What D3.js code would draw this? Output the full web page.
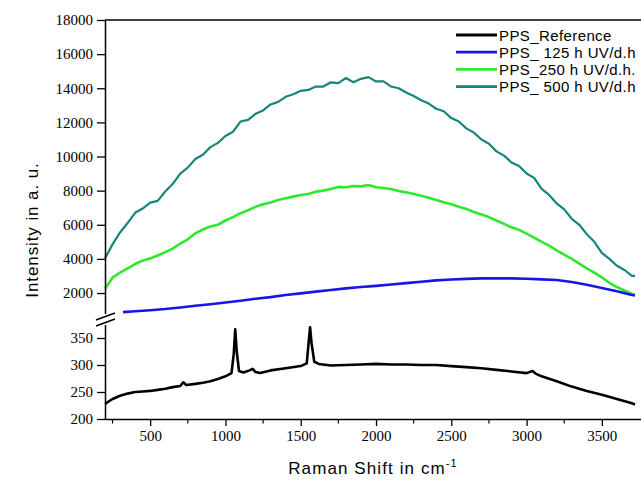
<!DOCTYPE html>
<html>
<head>
<meta charset="utf-8">
<script src="https://cdnjs.cloudflare.com/ajax/libs/d3/7.8.5/d3.min.js"></script>
<style>
  body { margin: 0; background: #fff; }
  svg { display: block; }
  .tick text { font-family: "Liberation Serif", "Times New Roman", serif; font-size: 15px; fill: #000; }
  .lbl { font-family: "Liberation Sans", Arial, sans-serif; fill: #000; }
</style>
</head>
<body>
<div id="chart"></div>
<script>
// Raman shift grid (cm-1) for the UV-aged spectra
var shift = [200, 250, 300, 350, 400, 450, 500, 550, 600, 650, 700, 750, 800, 850, 900, 950,
  1000, 1050, 1100, 1150, 1200, 1250, 1300, 1350, 1400, 1450, 1500, 1550, 1600, 1650, 1700, 1750,
  1800, 1850, 1900, 1950, 2000, 2050, 2100, 2150, 2200, 2250, 2300, 2350, 2400, 2450, 2500, 2550,
  2600, 2650, 2700, 2750, 2800, 2850, 2900, 2950, 3000, 3050, 3100, 3150, 3200, 3250, 3300, 3350,
  3400, 3450, 3500, 3550, 3600, 3650, 3700, 3720];

var pps500 = [4030, 4850, 5550, 6100, 6700, 6950, 7300, 7400, 7950, 8400, 9000, 9350, 9850, 10100, 10550, 10800,
  11200, 11450, 12050, 12150, 12500, 12700, 13050, 13200, 13500, 13650, 13850, 13900, 14100, 14100, 14350, 14300,
  14600, 14350, 14550, 14650, 14400, 14400, 14100, 14000, 13750, 13550, 13300, 13100, 12800, 12650, 12250, 12050,
  11650, 11400, 11000, 10750, 10300, 10050, 9650, 9450, 9000, 8750, 8100, 7750, 7250, 6900, 6350, 6000,
  5450, 5000, 4350, 4000, 3600, 3350, 3000, 3000];

var pps250 = [2250, 2900, 3200, 3450, 3700, 3900, 4030, 4200, 4400, 4600, 4900, 5150, 5500, 5720, 5900, 6000,
  6250, 6450, 6680, 6850, 7050, 7200, 7300, 7450, 7550, 7650, 7740, 7800, 7940, 8000, 8100, 8220,
  8200, 8270, 8250, 8330, 8200, 8150, 8100, 7980, 7900, 7800, 7700, 7580, 7450, 7320, 7200, 7050,
  6920, 6750, 6600, 6450, 6250, 6050, 5850, 5700, 5480, 5250, 5000, 4780, 4500, 4250, 4000, 3720,
  3450, 3200, 2920, 2600, 2350, 2150, 1950, 1900];

var shift125 = [320, 400, 500, 600, 700, 800, 900, 1000, 1100, 1200, 1300, 1400, 1500, 1600, 1700, 1800,
  1900, 2000, 2100, 2200, 2300, 2400, 2500, 2600, 2700, 2800, 2900, 3000, 3100, 3200, 3300, 3400,
  3500, 3600, 3700, 3720];
var pps125 = [880, 930, 990, 1060, 1150, 1250, 1340, 1440, 1550, 1660, 1760, 1880, 1980, 2080, 2180, 2270,
  2350, 2420, 2500, 2580, 2660, 2740, 2790, 2830, 2860, 2860, 2860, 2840, 2800, 2760, 2650, 2480,
  2290, 2100, 1890, 1850];

// reference spectrum, drawn on the lower axis segment
var shiftRef = [200, 250, 300, 350, 400, 450, 500, 550, 600, 650, 700, 720, 740, 800, 850, 900,
  950, 1000, 1040, 1055, 1065, 1075, 1090, 1120, 1160, 1180, 1200, 1230, 1300, 1400, 1500, 1540,
  1552, 1562, 1572, 1590, 1620, 1700, 1800, 1900, 2000, 2100, 2200, 2300, 2400, 2500, 2600, 2700,
  2800, 2900, 3000, 3040, 3060, 3100, 3200, 3300, 3400, 3500, 3600, 3700, 3720];
var ppsRef = [228, 237, 243, 247, 250, 251, 252, 254, 256, 259, 261, 268, 263, 265, 267, 270,
  274, 279, 285, 320, 366, 325, 289, 286, 290, 293, 287, 285, 290, 294, 298, 303,
  340, 370, 340, 306, 302, 299, 300, 301, 302, 301, 301, 300, 300, 298, 296, 294,
  291, 288, 285, 289, 284, 279, 270, 260, 252, 245, 237, 229, 227];

var upperTicks = [2000, 4000, 6000, 8000, 10000, 12000, 14000, 16000, 18000];
var lowerTicks = [200, 250, 300, 350];
var xTicks = [500, 1000, 1500, 2000, 2500, 3000, 3500];
var xMinor = [250, 750, 1250, 1750, 2250, 2750, 3250];

var legendNames = ["PPS_Reference", "PPS_ 125 h UV/d.h", "PPS_250 h UV/d.h.", "PPS_ 500 h UV/d.h"];
var legendColors = ["#000000", "#1616e6", "#2ee82e", "#16857a"];

var width = 641, height = 482;

var svg = d3.select("#chart").append("svg")
  .attr("width", width)
  .attr("height", height);

var xScale = d3.scaleLinear().domain([200, 3760]).range([105, 641]);
var yUpper = d3.scaleLinear().domain([800, 18000]).range([313.5, 20]);
var yLower = d3.scaleLinear().domain([200, 375]).range([419, 324.5]);

function drawCurve(xs, ys, yScale, color, w) {
  var line = d3.line()
    .x(function(d) { return xScale(d[0]); })
    .y(function(d) { return yScale(d[1]); });
  svg.append("path")
    .datum(d3.zip(xs, ys))
    .attr("d", line)
    .attr("fill", "none")
    .attr("stroke", color)
    .attr("stroke-width", w)
    .attr("stroke-linejoin", "round");
}

drawCurve(shift, pps500, yUpper, legendColors[3], 2.2);
drawCurve(shift, pps250, yUpper, legendColors[2], 2.6);
drawCurve(shift125, pps125, yUpper, legendColors[1], 2.6);
drawCurve(shiftRef, ppsRef, yLower, legendColors[0], 2.6);

// x axis
var xAxis = d3.axisBottom(xScale).tickValues(xTicks).tickFormat(d3.format("d"))
  .tickSize(7).tickSizeOuter(0).tickPadding(4);
var xg = svg.append("g")
  .attr("transform", "translate(0,419)")
  .call(xAxis);
xg.select(".domain").attr("stroke-width", 1.5);

svg.selectAll(".xminor")
  .data(xMinor)
  .enter().append("line")
  .attr("class", "xminor")
  .attr("x1", function(d) { return xScale(d); })
  .attr("x2", function(d) { return xScale(d); })
  .attr("y1", 419)
  .attr("y2", 423.5)
  .attr("stroke", "#000")
  .attr("stroke-width", 1.2);

// top frame line
svg.append("line")
  .attr("x1", 105).attr("x2", 641)
  .attr("y1", 20).attr("y2", 20)
  .attr("stroke", "#000").attr("stroke-width", 1.5);

// y axis, broken in two segments
var yAxisUp = d3.axisLeft(yUpper).tickValues(upperTicks).tickFormat(d3.format("d"))
  .tickSize(8).tickSizeOuter(0).tickPadding(4);
svg.append("g")
  .attr("transform", "translate(105,0)")
  .call(yAxisUp)
  .select(".domain").attr("stroke-width", 1.5);

var yAxisLow = d3.axisLeft(yLower).tickValues(lowerTicks).tickFormat(d3.format("d"))
  .tickSize(8).tickSizeOuter(0).tickPadding(4);
svg.append("g")
  .attr("transform", "translate(105,0)")
  .call(yAxisLow)
  .select(".domain").attr("stroke-width", 1.5);

svg.selectAll(".tick line").attr("stroke-width", 1.3);

// break marks
var breakY = [317, 323];
svg.selectAll(".brk")
  .data(breakY)
  .enter().append("line")
  .attr("class", "brk")
  .attr("x1", 96).attr("x2", 115)
  .attr("y1", function(d) { return d + 3; })
  .attr("y2", function(d) { return d - 4; })
  .attr("stroke", "#000")
  .attr("stroke-width", 1.4);

// axis titles
svg.append("text")
  .attr("class", "lbl")
  .attr("transform", "translate(38,230) rotate(-90)")
  .attr("text-anchor", "middle")
  .style("font-size", "17px")
  .style("letter-spacing", "0.9px")
  .text("Intensity in a. u.");

var xt = svg.append("text")
  .attr("class", "lbl")
  .attr("x", 373)
  .attr("y", 474)
  .attr("text-anchor", "middle")
  .style("font-size", "17px")
  .style("letter-spacing", "1.1px");
xt.append("tspan").text("Raman Shift in cm");
xt.append("tspan").attr("dy", -7).style("font-size", "11px").text("-1");

// legend
var legend = svg.selectAll(".legend")
  .data(legendNames)
  .enter().append("g")
  .attr("class", "legend")
  .attr("transform", function(d, i) { return "translate(0," + (35 + i * 17.2) + ")"; });

legend.append("line")
  .attr("x1", 456).attr("x2", 497)
  .attr("y1", 0).attr("y2", 0)
  .attr("stroke", function(d, i) { return legendColors[i]; })
  .attr("stroke-width", 2.8);

legend.append("text")
  .attr("class", "lbl")
  .attr("x", 499)
  .attr("y", 5.5)
  .style("font-size", "15px")
  .style("letter-spacing", "0.4px")
  .text(function(d) { return d; });
</script>
</body>
</html>
